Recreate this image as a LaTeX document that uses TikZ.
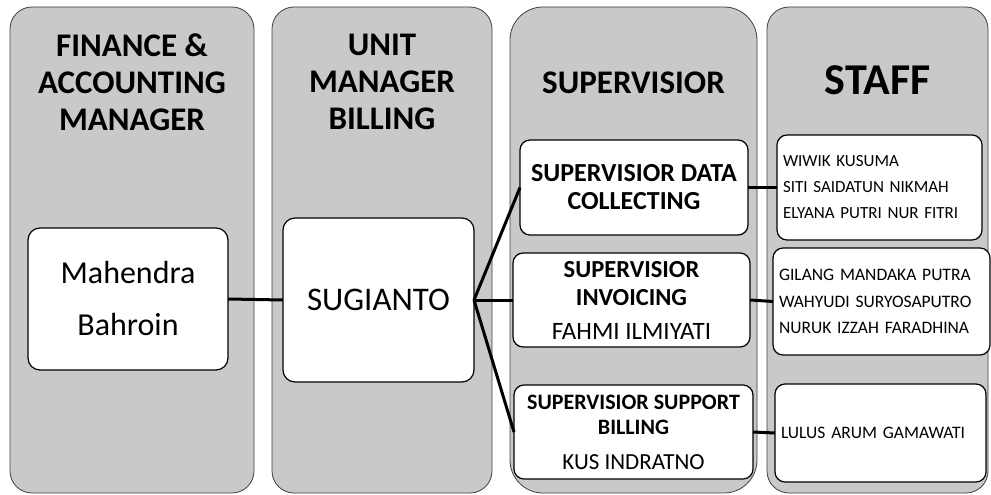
\documentclass[tikz,border=0pt]{standalone}
\usepackage{fontspec}
\setmainfont{Carlito}
\usepackage{tikz}
\usetikzlibrary{positioning}

\begin{document}
\begin{tikzpicture}[
  x=1pt, y=-1pt,
  lane/.style={draw=black!75, fill=black!21, line width=0.8pt, rounded corners=22pt,
    outer sep=0pt, minimum height=486pt},
  head/.style={font=\fontsize{33}{37}\selectfont\bfseries, align=center, inner sep=0pt, anchor=north},
  card/.style={draw, fill=white, line width=1.2pt, rounded corners=12pt, align=center,
    inner sep=2pt, outer sep=0pt},
  supbox/.style={card, rounded corners=10pt},
  staffbox/.style={card, rounded corners=10pt, align=left, inner sep=6pt},
  link/.style={line width=3pt}
]
\useasboundingbox (0,0) rectangle (991,495);

% Lanes
\node[lane, minimum width=244pt, anchor=north west] (fin) at (10,7) {};
\node[lane, minimum width=220pt, right=18pt of fin.north east, anchor=north west] (unit) {};
\node[lane, minimum width=247pt, rounded corners=33pt, right=18pt of unit.north east, anchor=north west] (sup) {};
\node[lane, minimum width=221pt, right=10pt of sup.north east, anchor=north west] (staff) {};

% Lane titles
\node[head, below=27pt of fin.north] (finhead) {FINANCE \&\\ACCOUNTING\\MANAGER};
\node[head, below=27pt of unit.north] (unithead) {UNIT\\MANAGER\\BILLING};
\node[head, below=65pt of sup.north] (suphead) {SUPERVISIOR};
\node[head, below=58pt of staff.north, font=\fontsize{44}{48}\selectfont\bfseries] (staffhead) {STAFF};

% Managers
\node[card, minimum width=200pt, minimum height=142pt, font=\fontsize{32}{52}\selectfont] (mahendra) at (128,299) {Mahendra\\Bahroin};
\node[card, minimum width=191pt, minimum height=164pt, font=\fontsize{33}{40}\selectfont] (sugianto) at (378.5,300) {SUGIANTO};

% Supervisors
\node[supbox, minimum width=228pt, minimum height=95pt, font=\fontsize{26}{28}\selectfont\bfseries] (supdata) at (634,187.5)
  {SUPERVISIOR DATA\\COLLECTING};
\node[supbox, minimum width=237pt, minimum height=94pt, font=\fontsize{24.5}{28}\selectfont] (supinv) at (631.5,300)
  {\textbf{SUPERVISIOR}\\\textbf{INVOICING}\\[6pt]{\fontsize{25}{28}\selectfont FAHMI ILMIYATI}};
\node[supbox, minimum width=239pt, minimum height=94pt, font=\fontsize{22}{25}\selectfont] (supbill) at (633.5,432)
  {\textbf{SUPERVISIOR SUPPORT}\\\textbf{BILLING}\\[10pt]{\fontsize{23}{25}\selectfont KUS INDRATNO}};

% Staff
\node[staffbox, text width=193pt, minimum height=105pt, font=\fontsize{17}{26}\selectfont] (staffa) at (879.5,187.5)
  {WIWIK KUSUMA\\SITI SAIDATUN NIKMAH\\ELYANA PUTRI NUR FITRI};
\node[staffbox, text width=205pt, minimum height=107pt, font=\fontsize{17.5}{26.5}\selectfont] (staffb) at (881.5,301.5)
  {GILANG MANDAKA PUTRA\\WAHYUDI SURYOSAPUTRO\\NURUK IZZAH FARADHINA};
\node[staffbox, text width=199pt, minimum height=98pt, font=\fontsize{17.5}{26.5}\selectfont] (staffc) at (880.5,433)
  {LULUS ARUM GAMAWATI};

% Links
\draw[link] (mahendra.east) -- (sugianto.west);
\foreach \s in {supdata, supinv, supbill}
  \draw[link] (sugianto.east) -- (\s.west);
\foreach \s/\t in {supdata/staffa, supinv/staffb, supbill/staffc}
  \draw[link] (\s.east) -- (\t.west);

\end{tikzpicture}
\end{document}
